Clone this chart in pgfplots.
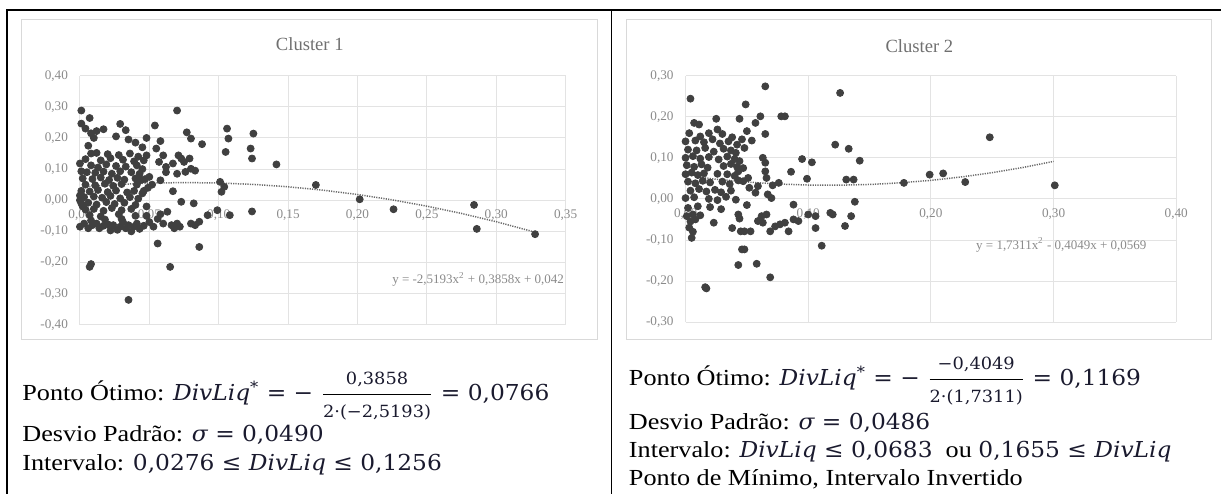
\documentclass[border=0pt]{standalone}
\usepackage{amsmath}
\usepackage{fontspec}
\setmainfont{Liberation Serif}
\newfontfamily\bodyfont{Liberation Serif}[FakeStretch=1.14]
\newfontfamily\mfont{DejaVu Serif}[FakeStretch=1.06]
\usepackage{pgfplots}
\pgfplotsset{compat=1.18}
\definecolor{dotgray}{HTML}{404040}
\definecolor{gridgray}{HTML}{E3E3E3}
\definecolor{boxgray}{HTML}{D9D9D9}
\definecolor{tickgray}{HTML}{8A8A8A}
\definecolor{titlegray}{HTML}{707070}
\definecolor{trendgray}{HTML}{6A6A6A}
\definecolor{mathink}{HTML}{1A1A2E}
\newcommand{\M}[1]{\textcolor{mathink}{\mfont\fontsize{11}{12}\selectfont #1}}
\newcommand{\MI}[1]{\textcolor{mathink}{\mfont\fontsize{11}{12}\selectfont\itshape #1}}
\newcommand{\FS}[1]{\hbox{\mfont\fontsize{8.4}{9}\selectfont\textcolor{mathink}{#1}}}
\newcommand{\Fr}[2]{\ensuremath{\genfrac{}{}{0.6pt}{0}{\FS{#1}}{\FS{#2}}}}
\newcommand{\DL}{\MI{DivLiq}}
\pgfplotsset{
  clax/.style={
    scale only axis,
    anchor=south west,
    axis x line=middle,
    axis y line=left,
    axis line style={-, draw=gridgray, line width=0.5pt},
    hide obscured x ticks=false,
    enlargelimits=false,
    grid=major,
    grid style={draw=gridgray, line width=0.45pt},
    major tick length=0pt,
    tick label style={font=\fontsize{6.6}{7}\selectfont, text=tickgray,
      /pgf/number format/fixed, /pgf/number format/fixed zerofill,
      /pgf/number format/precision=2, /pgf/number format/use comma,
      /pgf/number format/assume math mode=true},
    xticklabel style={anchor=north, yshift=-1.2pt},
    yticklabel style={anchor=east, xshift=-2.5pt},
    clip=false,
  },
  dots/.style={only marks, mark=*, mark size=1.75pt, draw=dotgray, fill=dotgray, mark options={draw=dotgray, fill=dotgray}},
  trend/.style={no marks, draw=trendgray, line width=0.75pt, dash pattern=on 0.6pt off 0.6pt},
}
\begin{document}
\begin{tikzpicture}
% table frame
\draw[black, line width=0.8pt] (3.5pt,-247pt) -- (3.5pt,-5pt) -- (611pt,-5pt);
\draw[black, line width=0.8pt] (306pt,-5pt) -- (306pt,-247pt);
% chart areas
\draw[boxgray, line width=0.5pt] (11pt,-10pt) rectangle (299pt,-170pt);
\draw[boxgray, line width=0.5pt] (313.5pt,-10pt) rectangle (606pt,-170pt);
\node[font=\fontsize{9.3}{10}\selectfont, text=titlegray] at (155pt,-22pt) {Cluster 1};
\node[font=\fontsize{9.3}{10}\selectfont, text=titlegray] at (460pt,-23pt) {Cluster 2};

% ---------------- Cluster 1
\begin{axis}[clax, at={(40pt,-162.5pt)}, width=243pt, height=124.65pt,
  xmin=0, xmax=0.35, ymin=-0.4, ymax=0.4,
  xtick={0,0.05,0.1,0.15,0.2,0.25,0.3,0.35},
  ytick={-0.4,-0.3,-0.2,-0.1,0,0.1,0.2,0.3,0.4}]
\addplot[dots] coordinates {
(0.001,0.288) (0.007,0.264) (0.001,0.246) (0.004,0.230) (0.008,0.215) (0.012,0.222) (0.017,0.228) (0.010,0.200) (0.006,0.175) (0.008,0.150) (0.000,0.118) (0.001,0.093)
(0.029,0.245) (0.033,0.225) (0.026,0.205) (0.035,0.195) (0.040,0.185) (0.045,0.170) (0.048,0.200) (0.054,0.240) (0.058,0.190) (0.070,0.288) (0.077,0.218) (0.080,0.198) (0.088,0.180)
(0.048,0.144) (0.055,0.166) (0.060,0.144) (0.057,0.123) (0.062,0.107) (0.067,0.118) (0.071,0.144) (0.075,0.123) (0.079,0.134) (0.080,0.101) (0.076,0.091) (0.073,0.134) (0.070,0.085) (0.058,0.064) (0.062,0.090) (0.083,0.095)
(0.106,0.230) (0.107,0.198) (0.105,0.155) (0.125,0.214) (0.123,0.166) (0.124,0.134) (0.1416,0.115) (0.170,0.049) (0.2016,0.003) (0.226,-0.029) (0.284,-0.015) (0.286,-0.092) (0.328,-0.109)
(0.101,0.059) (0.102,0.027) (0.104,0.043)
(0.067,0.029) (0.073,-0.005) (0.082,-0.010) (0.048,-0.020) (0.063,-0.037) (0.048,-0.050)
(0.080,-0.075) (0.083,-0.080) (0.086,-0.069) (0.092,-0.048) (0.099,-0.032) (0.108,-0.048) (0.124,-0.036)
(0.050,-0.070) (0.053,-0.085) (0.056,-0.060) (0.058,-0.045) (0.060,-0.075) (0.066,-0.080) (0.068,-0.090) (0.070,-0.075) (0.072,-0.085)
(0.056,-0.139) (0.086,-0.150) (0.065,-0.214) (0.008,-0.205) (0.007,-0.214) (0.035,-0.320)
(0.000,-0.085) (0.003,-0.075) (0.006,-0.090) (0.009,-0.080) (0.012,-0.075) (0.014,-0.090) (0.017,-0.082) (0.020,-0.077) (0.024,-0.080) (0.027,-0.095) (0.029,-0.085) (0.031,-0.070) (0.033,-0.090) (0.035,-0.080) (0.037,-0.100) (0.039,-0.085) (0.041,-0.075) (0.043,-0.092) (0.046,-0.082) (0.022,-0.097) (0.008,-0.065) (0.018,-0.062) (0.030,-0.060)
(0.044,0.065) (0.050,0.075) (0.052,0.050) (0.046,0.030) (0.049,0.040)
(0.012,0.152) (0.020,0.148) (0.028,0.145) (0.036,0.150) (0.042,0.140)
(0.004,0.132) (0.015,0.128) (0.022,0.135) (0.031,0.130) (0.039,0.125) (0.046,0.128)
(0.008,0.112) (0.013,0.105) (0.019,0.115) (0.026,0.110) (0.033,0.108) (0.041,0.112) (0.045,0.100)
(0.005,0.090) (0.011,0.088) (0.017,0.092) (0.023,0.085) (0.029,0.093) (0.037,0.090) (0.043,0.085)
(0.002,0.070) (0.009,0.068) (0.015,0.073) (0.021,0.065) (0.027,0.072) (0.032,0.066) (0.040,0.070) (0.047,0.068)
(0.004,0.050) (0.011,0.048) (0.018,0.053) (0.024,0.046) (0.030,0.052) (0.041,0.050)
(0.001,0.030) (0.007,0.028) (0.013,0.033) (0.020,0.026) (0.026,0.031) (0.034,0.025) (0.039,0.030) (0.045,0.022)
(0.003,0.010) (0.010,0.012) (0.016,0.008) (0.022,0.014) (0.029,0.006) (0.036,0.010) (0.042,0.005)
(0.001,-0.010) (0.006,-0.008) (0.012,-0.014) (0.019,-0.006) (0.025,-0.012) (0.032,-0.008) (0.040,-0.015)
(0.004,-0.030) (0.010,-0.028) (0.017,-0.034) (0.023,-0.025) (0.030,-0.032) (0.037,-0.028)
(0.007,-0.048) (0.015,-0.052) (0.028,-0.045) (0.040,-0.050)
(0.000,0.000) (0.000,0.015) (0.002,-0.020)
};
\addplot[trend] coordinates {
(0.005,0.04387) (0.025,0.05007) (0.05,0.05499) (0.075,0.05676) (0.1,0.05539) (0.125,0.05086) (0.15,0.04319) (0.175,0.03236) (0.2,0.01839) (0.225,0.00127) (0.25,-0.01901) (0.275,-0.04243) (0.3,-0.06900) (0.33,-0.10504)
};
\node[anchor=east, inner sep=0pt, font=\fontsize{6.5}{7}\selectfont, text=tickgray] at (axis cs:0.349,-0.255) {y = -2,5193x\textsuperscript{2} + 0,3858x + 0,042};
\end{axis}

% ---------------- Cluster 2
\begin{axis}[clax, at={(343pt,-161.15pt)}, width=245.5pt, height=123.3pt,
  xmin=0, xmax=0.4, ymin=-0.3, ymax=0.3,
  xtick={0,0.1,0.2,0.3,0.4},
  ytick={-0.3,-0.2,-0.1,0,0.1,0.2,0.3}]
\addplot[dots] coordinates {
(0.004,0.244) (0.065,0.274) (0.126,0.258) (0.049,0.230) (0.078,0.201) (0.081,0.201) (0.007,0.185) (0.011,0.181) (0.025,0.195) (0.044,0.195) (0.061,0.201) (0.057,0.185) (0.026,0.169) (0.012,0.152) (0.050,0.165) (0.065,0.158)
(0.122,0.132) (0.133,0.122) (0.142,0.093) (0.095,0.097) (0.103,0.089) (0.063,0.100) (0.065,0.088) (0.086,0.066) (0.099,0.049) (0.131,0.047) (0.137,0.047)
(0.088,-0.014) (0.138,-0.007) (0.050,-0.015) (0.135,-0.042) (0.130,-0.066) (0.111,-0.114) (0.118,-0.034) (0.120,-0.038)
(0.048,-0.079) (0.045,-0.079) (0.038,-0.071) (0.023,-0.058) (0.046,-0.123) (0.048,-0.123) (0.043,-0.161) (0.058,-0.158) (0.069,-0.191) (0.016,-0.215) (0.017,-0.218) (0.005,-0.095)
(0.248,0.150) (0.301,0.033) (0.228,0.041) (0.210,0.062) (0.199,0.059) (0.178,0.039)
(0.059,-0.054) (0.063,-0.058) (0.062,-0.042) (0.066,-0.038) (0.073,-0.067) (0.077,-0.062) (0.081,-0.058) (0.088,-0.050) (0.092,-0.054) (0.100,-0.038) (0.106,-0.042) (0.106,-0.071) (0.043,-0.038) (0.044,-0.048) (0.069,-0.079) (0.084,-0.079) (0.053,-0.079)
(0.052,0.027) (0.059,0.031) (0.057,0.015) (0.066,0.051) (0.071,0.033) (0.076,0.039) (0.067,0.011) (0.070,0.002) (0.065,0.067) (0.051,0.051) (0.047,0.075) (0.047,0.043) (0.043,0.067) (0.044,0.092) (0.041,0.112) (0.048,0.124) (0.054,0.142)
(0.003,0.160) (0.019,0.160) (0.030,0.158) (0.038,0.150) (0.046,0.145)
(0.000,0.140) (0.008,0.142) (0.015,0.138) (0.022,0.145) (0.028,0.135) (0.035,0.140) (0.042,0.132)
(0.002,0.120) (0.009,0.118) (0.016,0.124) (0.023,0.115) (0.031,0.122) (0.037,0.118)
(0.000,0.100) (0.006,0.104) (0.012,0.098) (0.019,0.102) (0.027,0.096) (0.034,0.103) (0.040,0.097)
(0.001,0.082) (0.007,0.078) (0.013,0.084) (0.018,0.076) (0.031,0.080) (0.037,0.085) (0.042,0.078)
(0.000,0.060) (0.005,0.064) (0.010,0.058) (0.015,0.062) (0.026,0.061) (0.034,0.060) (0.040,0.056)
(0.002,0.042) (0.008,0.038) (0.014,0.044) (0.020,0.040) (0.030,0.042) (0.036,0.036) (0.043,0.045)
(0.004,0.020) (0.011,0.024) (0.017,0.018) (0.024,0.022) (0.029,0.016) (0.037,0.020)
(0.000,0.002) (0.007,0.004) (0.019,0.000) (0.026,-0.003) (0.033,0.005) (0.041,-0.002)
(0.002,-0.022) (0.010,-0.018) (0.020,-0.020) (0.029,-0.025)
(0.001,-0.042) (0.006,-0.038) (0.012,-0.040) (0.004,-0.055) (0.008,-0.050) (0.003,-0.070) (0.006,-0.080)
};
\addplot[trend] coordinates {
(0.01,0.05302) (0.025,0.04786) (0.05,0.04098) (0.075,0.03627) (0.1,0.03372) (0.1169,0.03322) (0.125,0.03334) (0.15,0.03512) (0.175,0.03906) (0.2,0.04516) (0.225,0.05343) (0.25,0.06387) (0.275,0.07647) (0.3,0.09123)
};
\node[anchor=east, inner sep=0pt, font=\fontsize{6.5}{7}\selectfont, text=tickgray] at (axis cs:0.376,-0.112) {y = 1,7311x\textsuperscript{2} - 0,4049x + 0,0569};
\end{axis}

% ---------------- texts below
\begin{scope}[every node/.style={anchor=base west, inner sep=0pt, font=\bodyfont\fontsize{11.5}{13}\selectfont}]
\node at (11pt,-200.5pt) {Ponto Ótimo: \DL\M{\textsuperscript{*} = − }\Fr{0,3858}{2·(−2,5193)}\M{ = 0,0766}};
\node at (11pt,-221pt) {Desvio Padrão: \MI{σ}\M{ = 0,0490}};
\node at (11pt,-235.5pt) {Intervalo: \M{0,0276 ≤ }\DL\M{ ≤ 0,1256}};
\node at (314.5pt,-193pt) {Ponto Ótimo: \DL\M{\textsuperscript{*} = − }\Fr{−0,4049}{2·(1,7311)}\M{ = 0,1169}};
\node at (314.5pt,-215pt) {Desvio Padrão: \MI{σ}\M{ = 0,0486}};
\node at (314.5pt,-229pt) {Intervalo: \DL\M{ ≤ 0,0683}\ \ ou \M{0,1655 ≤ }\DL};
\node at (314.5pt,-243pt) {Ponto de Mínimo, Intervalo Invertido};
\end{scope}
\useasboundingbox (0,0) rectangle (611pt,-247pt);
\end{tikzpicture}
\end{document}
